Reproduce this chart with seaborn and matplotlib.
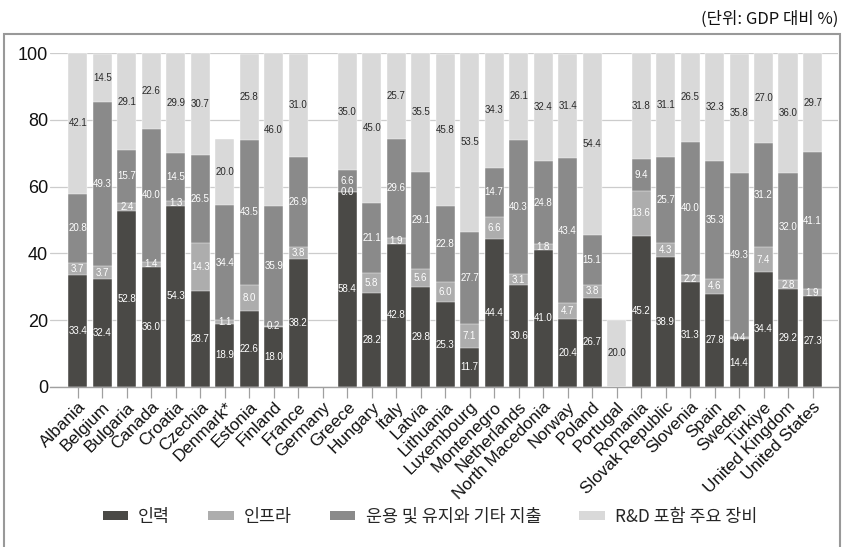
import numpy as np
import pandas as pd
import matplotlib
matplotlib.use("Agg")
import matplotlib.pyplot as plt
from matplotlib.patches import Patch, Rectangle
import seaborn as sns

countries = ["Albania", "Belgium", "Bulgaria", "Canada", "Croatia", "Czechia", "Denmark*",
             "Estonia", "Finland", "France", "Germany", "Greece", "Hungary", "Italy", "Latvia",
             "Lithuania", "Luxembourg", "Montenegro", "Netherlands", "North Macedonia", "Norway",
             "Poland", "Portugal", "Romania", "Slovak Republic", "Slovenia", "Spain", "Sweden",
             "Türkiye", "United Kingdom", "United States"]

nan = np.nan
personnel = [33.4, 32.4, 52.8, 36.0, 54.3, 28.7, 18.9, 22.6, 18.0, 38.2, nan, 58.4, 28.2, 42.8,
             29.8, 25.3, 11.7, 44.4, 30.6, 41.0, 20.4, 26.7, nan, 45.2, 38.9, 31.3, 27.8, 14.4,
             34.4, 29.2, 27.3]
infrastructure = [3.7, 3.7, 2.4, 1.4, 1.3, 14.3, 1.1, 8.0, 0.2, 3.8, nan, 0.0, 5.8, 1.9,
                  5.6, 6.0, 7.1, 6.6, 3.1, 1.8, 4.7, 3.8, nan, 13.6, 4.3, 2.2, 4.6, 0.4,
                  7.4, 2.8, 1.9]
operations = [20.8, 49.3, 15.7, 40.0, 14.5, 26.5, 34.4, 43.5, 35.9, 26.9, nan, 6.6, 21.1, 29.6,
              29.1, 22.8, 27.7, 14.7, 40.3, 24.8, 43.4, 15.1, nan, 9.4, 25.7, 40.0, 35.3, 49.3,
              31.2, 32.0, 41.1]
equipment = [42.1, 14.5, 29.1, 22.6, 29.9, 30.7, 20.0, 25.8, 46.0, 31.0, nan, 35.0, 45.0, 25.7,
             35.5, 45.8, 53.5, 34.3, 26.1, 32.4, 31.4, 54.4, 20.0, 31.8, 31.1, 26.5, 32.3, 35.8,
             27.0, 36.0, 29.7]

series_names = ["인력", "인프라", "운용 및 유지와 기타 지출", "R&D 포함 주요 장비"]
series_colors = ["#4a4946", "#adadad", "#8a8a8a", "#d9d9d9"]
text_colors = ["white", "white", "white", "#2a2a2a"]

sns.set_theme(style="white")
plt.rcParams["font.family"] = ["Liberation Sans", "Noto Sans CJK KR", "DejaVu Sans"]

df = pd.DataFrame({"country": countries,
                   series_names[0]: personnel,
                   series_names[1]: infrastructure,
                   series_names[2]: operations,
                   series_names[3]: equipment})
parts = df[series_names].fillna(0.0)
cum = parts.cumsum(axis=1)
has_data = df[series_names].notna().any(axis=1)

W, H = 844, 547
fig = plt.figure(figsize=(W / 100, H / 100), dpi=100)
ax = fig.add_axes([50 / W, 1 - 386.7 / H, 788 / W, 333.4 / H])

# stacked bars: draw cumulative totals from the top layer downwards
for i in reversed(range(len(series_names))):
    heights = cum.iloc[:, i].where(has_data)
    sns.barplot(x=df["country"], y=heights, order=countries, color=series_colors[i],
                saturation=1, width=0.78, errorbar=None, edgecolor="white",
                linewidth=0.3, ax=ax, zorder=2)

# segment value labels
for j, c in enumerate(countries):
    base = 0.0
    for i, name in enumerate(series_names):
        v = df.loc[j, name]
        if pd.isna(v):
            continue
        ax.text(j, base + v / 2, f"{v:.1f}", ha="center", va="center",
                fontsize=7, color=text_colors[i], zorder=5)
        base += v

ax.set_ylim(0, 100)
ax.set_xlim(-1.135, 31.04)
ax.set_yticks(range(0, 101, 20))
ax.set_xlabel("")
ax.set_ylabel("")
ax.yaxis.grid(True, color="#cccccc", linewidth=0.9, zorder=0)
ax.set_axisbelow(True)
for s in ["left", "top", "right"]:
    ax.spines[s].set_visible(False)
ax.spines["bottom"].set_color("#a0a0a0")
ax.spines["bottom"].set_linewidth(1.0)
ax.tick_params(axis="y", length=0, pad=1.5, labelsize=13, labelcolor="#111111")
ax.tick_params(axis="x", length=8, width=0.9, color="#a0a0a0", pad=1, labelsize=12.3,
               labelcolor="#111111", bottom=True)
plt.setp(ax.get_xticklabels(), rotation=45, ha="right", rotation_mode="anchor")

# legend
handles = [Patch(facecolor=col, edgecolor="none") for col in series_colors]
fig.legend(handles, series_names, loc="center", bbox_to_anchor=(430 / W, 1 - 517 / H),
           ncol=4, frameon=False, handlelength=1.45, handleheight=0.45,
           handletextpad=0.6, columnspacing=2.2,
           prop={"family": ["Noto Sans CJK KR"], "size": 12.5})

# unit note
fig.text(838 / W, 1 - 19 / H, "(단위: GDP 대비 %)", ha="right", va="center",
         fontsize=12, family=["Noto Sans CJK KR"], color="#111111")

# outer frame
fig.add_artist(Rectangle((4 / W, -0.02), 836 / W, 0.02 + 1 - 34 / H, transform=fig.transFigure,
                         fill=False, edgecolor="#999999", linewidth=1.5))

fig.savefig("out.png", dpi=100)
